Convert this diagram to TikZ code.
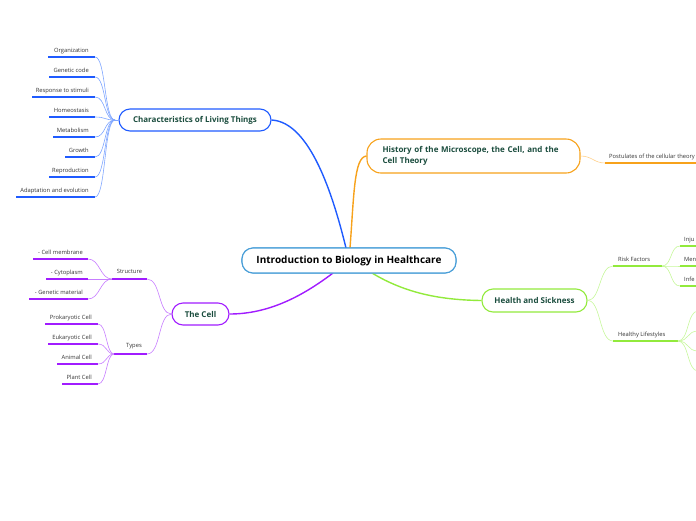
\documentclass[tikz,border=0pt]{standalone}
\usepackage{fontspec}
\setmainfont{Open Sans}
\definecolor{titlegreen}{HTML}{1B4D3E}
\definecolor{mainblue}{HTML}{4A9FD8}
\definecolor{cblue}{HTML}{1F5BFF}
\definecolor{cbluel}{HTML}{7FA6FF}
\definecolor{corange}{HTML}{F7A21B}
\definecolor{corangel}{HTML}{FFD08A}
\definecolor{cgreen}{HTML}{92EA3C}
\definecolor{cgreenl}{HTML}{C6F79A}
\definecolor{cpurple}{HTML}{A11CFF}
\definecolor{cpurplel}{HTML}{C77DFF}
\definecolor{leaftext}{HTML}{333333}
\tikzset{
  topic/.style={draw, line width=1.1pt, rounded corners=11pt, fill=white, text=titlegreen,
    font=\bfseries\fontsize{8}{11}\selectfont, inner sep=0pt},
  maintopic/.style={topic, draw=mainblue, text=black, font=\bfseries\fontsize{10}{12}\selectfont,
    minimum width=214pt, minimum height=25pt},
  leaf/.style={text=leaftext, font=\fontsize{5.8}{7}\selectfont, inner sep=0pt},
  ul/.style={line width=1.6pt},
  thin/.style={line width=0.6pt},
  thick/.style={line width=1.4pt},
}
\begin{document}
\begin{tikzpicture}[x=1pt,y=-1pt]
\useasboundingbox (0,0) rectangle (696,520);
\clip (0,0) rectangle (696,520);
% ---------- topics ----------
\node[maintopic] (main) at (349,260.5) {Introduction to Biology in Healthcare};
\node[topic, draw=cblue, minimum width=152pt, minimum height=22pt] (char) at (195,120) {Characteristics of Living Things};
\node[topic, draw=corange, align=left, text width=182pt, inner xsep=15.5pt, minimum height=34pt, rounded corners=14pt] (hist) at (473.5,156) {History of the Microscope, the Cell, and the\\Cell Theory};
\node[topic, draw=cgreen, minimum width=105pt, minimum height=23pt] (health) at (534.5,300.5) {Health and Sickness};
\node[topic, draw=cpurple, minimum width=57pt, minimum height=22pt] (cell) at (200.5,314) {The Cell};

\coordinate (mcT) at (346,248);
\coordinate (mhT) at (350,248);
\coordinate (mgB) at (372,273);
\coordinate (mpB) at (333,273);
\draw[thick, cblue] (char.east) .. controls (310,122) and (333,195) .. (mcT);
\draw[thick, corange] (mhT) .. controls (354,195) and (354,157) .. (hist.west);
\draw[thick, cgreen] (mgB) .. controls (405,293) and (440,300) .. (health.west);
\draw[thick, cpurple] (mpB) .. controls (295,302) and (262,314) .. (cell.east);
% redraw main on top
\node[maintopic] (main2) at (main.center) {Introduction to Biology in Healthcare};

% ---------- Characteristics leaves ----------
\coordinate (cj) at (115,120);
\foreach \n/\t/\l/\y in {a/Organization/48/57, b/Genetic code/49/77, c/Response to stimuli/32/97,
  d/Homeostasis/49/117, e/Metabolism/53/137, f/Growth/65/157, g/Reproduction/49/177,
  h/Adaptation and evolution/16/197}{
  \coordinate (cl\n) at (\l,\y);
  \coordinate (cr\n) at (95,\y);
  \draw[ul, cblue] (cl\n) -- (cr\n);
  \node[leaf, anchor=base east] (ct\n) at (89,\y-5) {\t};
  \draw[thin, cbluel] (cr\n) .. controls (106,\y) and (104,120) .. (cj);
}
\draw[thin, cbluel] (cj) -- (char.west);

% ---------- History leaf ----------
\coordinate (pl) at (605,163);
\coordinate (pr) at (700,163);
\draw[thin, corangel] (hist.east) .. controls (592,156) and (594,163) .. (pl);
\draw[ul, corange] (pl) -- (pr);
\node[leaf, anchor=base west] (pt) at (609,158) {Postulates of the cellular theory};

% ---------- Health ----------
\coordinate (rl) at (613,266); \coordinate (rr) at (662,266);
\coordinate (ll) at (613,341); \coordinate (lr) at (678,341);
\draw[thin, cgreenl] (health.east) .. controls (601,300) and (599,266) .. (rl);
\draw[thin, cgreenl] (health.east) .. controls (601,300) and (599,341) .. (ll);
\draw[ul, cgreen] (rl) -- (rr);
\draw[ul, cgreen] (ll) -- (lr);
\node[leaf, anchor=base west] (rt) at (618,261) {Risk Factors};
\node[leaf, anchor=base west] (lt) at (618,336) {Healthy Lifestyles};
\foreach \n/\t/\y in {a/Inju/246, b/Men/266, c/Infe/286}{
  \coordinate (rcl\n) at (680,\y);
  \coordinate (rcr\n) at (700,\y);
  \draw[thin, cgreenl] (rr) .. controls (672,266) and (670,\y) .. (rcl\n);
  \draw[ul, cgreen] (rcl\n) -- (rcr\n);
  \node[leaf, anchor=base west] (rct\n) at (684,\y-5) {\t};
}
\foreach \n/\y in {a/311, b/331, c/351, d/371}{
  \coordinate (hc\n) at (698,\y);
  \draw[thin, cgreenl] (lr) .. controls (689,341) and (687,\y) .. (hc\n);
}

% ---------- The Cell ----------
\coordinate (sl) at (112,279); \coordinate (sr) at (147,279);
\coordinate (tl) at (114,354); \coordinate (tr) at (147,354);
\draw[thin, cpurplel] (cell.west) .. controls (158,314) and (161,279) .. (sr);
\draw[thin, cpurplel] (cell.west) .. controls (158,314) and (161,354) .. (tr);
\draw[ul, cpurple] (sl) -- (sr);
\draw[ul, cpurple] (tl) -- (tr);
\node[leaf] (st) at (129.5,271) {Structure};
\node[leaf] (tt) at (134,346) {Types};
\foreach \n/\t/\l/\y in {a/{- Cell membrane}/33/259, b/{- Cytoplasm}/46/279, c/{- Genetic material}/29/299}{
  \coordinate (sll\n) at (\l,\y);
  \coordinate (slr\n) at (88,\y);
  \draw[ul, cpurple] (sll\n) -- (slr\n);
  \node[leaf, anchor=base east] (stt\n) at (83,\y-5) {\t};
  \draw[thin, cpurplel] (slr\n) .. controls (100,\y) and (100,279) .. (sl);
}
\foreach \n/\t/\l/\y in {a/Prokaryotic Cell/45/324, b/Eukaryotic Cell/48/344, c/Animal Cell/57/364, d/Plant Cell/62/384}{
  \coordinate (tll\n) at (\l,\y);
  \coordinate (tlr\n) at (98,\y);
  \draw[ul, cpurple] (tll\n) -- (tlr\n);
  \node[leaf, anchor=base east] (ttt\n) at (92,\y-5) {\t};
  \draw[thin, cpurplel] (tlr\n) .. controls (107,\y) and (106,354) .. (tl);
}
\end{tikzpicture}
\end{document}
